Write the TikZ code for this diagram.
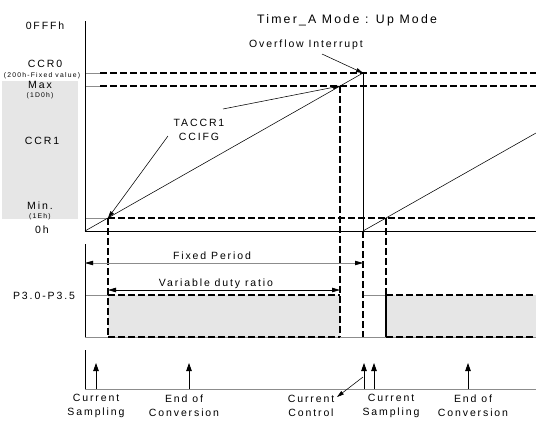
\documentclass[tikz,border=0pt]{standalone}
\usepackage{fontspec}
\setmainfont[LetterSpace=18]{Liberation Sans}
\usetikzlibrary{arrows.meta}
\definecolor{boxgray}{HTML}{E6E6E6}
\definecolor{lgray}{HTML}{8C8C8C}
\tikzset{
  lbl/.style={font=\fontsize{10.5}{14}\selectfont, inner sep=0pt, align=center},
  ttl/.style={font=\fontsize{12.3}{14}\selectfont, inner sep=0pt},
  tiny/.style={font=\fontsize{6.8}{8}\selectfont, inner sep=0pt},
  axisline/.style={line width=0.8pt},
  dline/.style={line width=1.3pt, dash pattern=on 6.5pt off 3.5pt},
  rampline/.style={line width=0.55pt},
  gline/.style={lgray, line width=0.8pt},
  ptr/.style={line width=0.55pt, -{Triangle[length=7pt,width=4pt]}},
  evarrow/.style={line width=0.8pt, -{Triangle[length=8pt,width=5.5pt]}},
  dimarrow/.style={line width=0.8pt, {Triangle[length=8pt,width=4.5pt]}-{Triangle[length=8pt,width=4.5pt]}}
}
\begin{document}
\begin{tikzpicture}[x=1pt,y=-1pt]
\useasboundingbox (0,0) rectangle (536,421);

% key points
\coordinate (o1) at (85,231);
\coordinate (ovf) at (363,73);
\coordinate (maxpt) at (340,86);
\coordinate (minpt) at (108,218);
\coordinate (o2) at (363,231);
\coordinate (minpt2) at (386,218);
\coordinate (rampend) at (536,133);

% left gray box
\fill[boxgray] (2,81) rectangle (78,219);

% left labels
\node[lbl] (lffff) at (45,26) {0FFFh};
\node[lbl] (lccr0) at (45,64) {CCR0};
\node[tiny] (lfix) at (42,76) {(200h-Fixed value)};
\node[lbl] (lmax) at (40,85) {Max};
\node[tiny] (l1d0) at (40,96) {(1D0h)};
\node[lbl] (lccr1) at (42,141) {CCR1};
\node[lbl] (lmin) at (40,206) {Min.};
\node[tiny] (l1e) at (40,217) {(1Eh)};
\node[lbl] (l0h) at (42,230) {0h};
\node[lbl] (lp3) at (44,296) {P3.0-P3.5};

% title texts
\node[ttl] (title) at (347,20) {Timer\_A Mode : Up Mode};
\node[lbl] (ovtxt) at (306,45) {Overflow Interrupt};
\node[lbl] (taccr) at (199,129.5) {TACCR1\\CCIFG};

% fills in P3 panel
\fill[boxgray] (108,295) rectangle (340,337);
\fill[boxgray] (386,295) rectangle (536,337);

% gray solid short segments and lines
\draw[gline] (85,73) -- (100,73);
\draw[gline] (85,86) -- (100,86);
\draw[gline] (85,218) -- (108,218);
\draw[gline] (85,295) -- (108,295);
\draw[gline] (363,295) -- (386,295);
\draw[gline] (85,337) -- (536,337);
\draw[gline] (85,389) -- (536,389);

% axes
\draw[axisline] (85,21) -- (o1);
\draw[axisline] (o1) -- (536,231);
\draw[axisline] (85,244) -- (85,337);
\draw[axisline] (85,350) -- (85,389);

% dashed levels
\draw[dline] (100,73) -- (536,73);
\draw[dline] (100,86) -- (536,86);
\draw[dline] (minpt) -- (536,218);
\draw[dline] (108,295) -- (340,295);
\draw[dline] (108,337) -- (340,337);
\draw[dline] (386,295) -- (536,295);
\draw[dline] (386,337) -- (536,337);

% dashed verticals
\draw[dline] (minpt) -- (108,337);
\draw[dline] (maxpt) -- (340,337);
\draw[dline] (o2) -- (363,337);
\draw[dline] (minpt2) -- (386,295);
\draw[line width=1.4pt] (386,295) -- (386,337);
\draw[axisline] (ovf) -- (o2);

% ramps
\draw[rampline] (o1) -- (ovf);
\draw[rampline] (o2) -- (rampend);

% pointers
\coordinate (ovs) at (322,54);
\draw[ptr] (ovs) -- (ovf);
\coordinate (tas1) at (223,109);
\draw[ptr] (tas1) -- (maxpt);
\coordinate (tas2) at (168,136);
\draw[ptr] (tas2) -- (minpt);

% period arrows
\node[lbl] (fixtxt) at (212,256) {Fixed Period};
\coordinate (fpl) at (85,263);
\coordinate (fpr) at (363,263);
\draw[dimarrow, lgray] (fpl) -- (fpr);
\fill (85,263) -- (93,260.8) -- (93,265.2) -- cycle;
\fill (363,263) -- (355,260.8) -- (355,265.2) -- cycle;
\node[lbl] (vartxt) at (216,284) {Variable duty ratio};
\coordinate (vdl) at (108,290);
\coordinate (vdr) at (340,290);
\draw[dimarrow] (vdl) -- (vdr);

% event arrows
\coordinate (e1b) at (96,389); \coordinate (e1t) at (96,363);
\coordinate (e2b) at (189,389); \coordinate (e2t) at (189,363);
\coordinate (e3b) at (364,389); \coordinate (e3t) at (364,363);
\coordinate (e4b) at (374,389); \coordinate (e4t) at (374,363);
\coordinate (e5b) at (468,389); \coordinate (e5t) at (468,363);
\draw[evarrow] (e1b) -- (e1t);
\draw[evarrow] (e2b) -- (e2t);
\draw[evarrow] (e3b) -- (e3t);
\draw[evarrow] (e4b) -- (e4t);
\draw[evarrow] (e5b) -- (e5t);

\node[lbl] (cs1) at (96,406) {Current\\Sampling};
\node[lbl] (ec1) at (184,406) {End of\\Conversion};
\node[lbl] (cc) at (311,406) {Current\\Control};
\node[lbl] (cs2) at (391,406) {Current\\Sampling};
\node[lbl] (ec2) at (473,406) {End of\\Conversion};

\coordinate (ccs) at (363,377);
\coordinate (cce) at (337,397);
\draw[ptr] (ccs) -- (cce);
\end{tikzpicture}
\end{document}
